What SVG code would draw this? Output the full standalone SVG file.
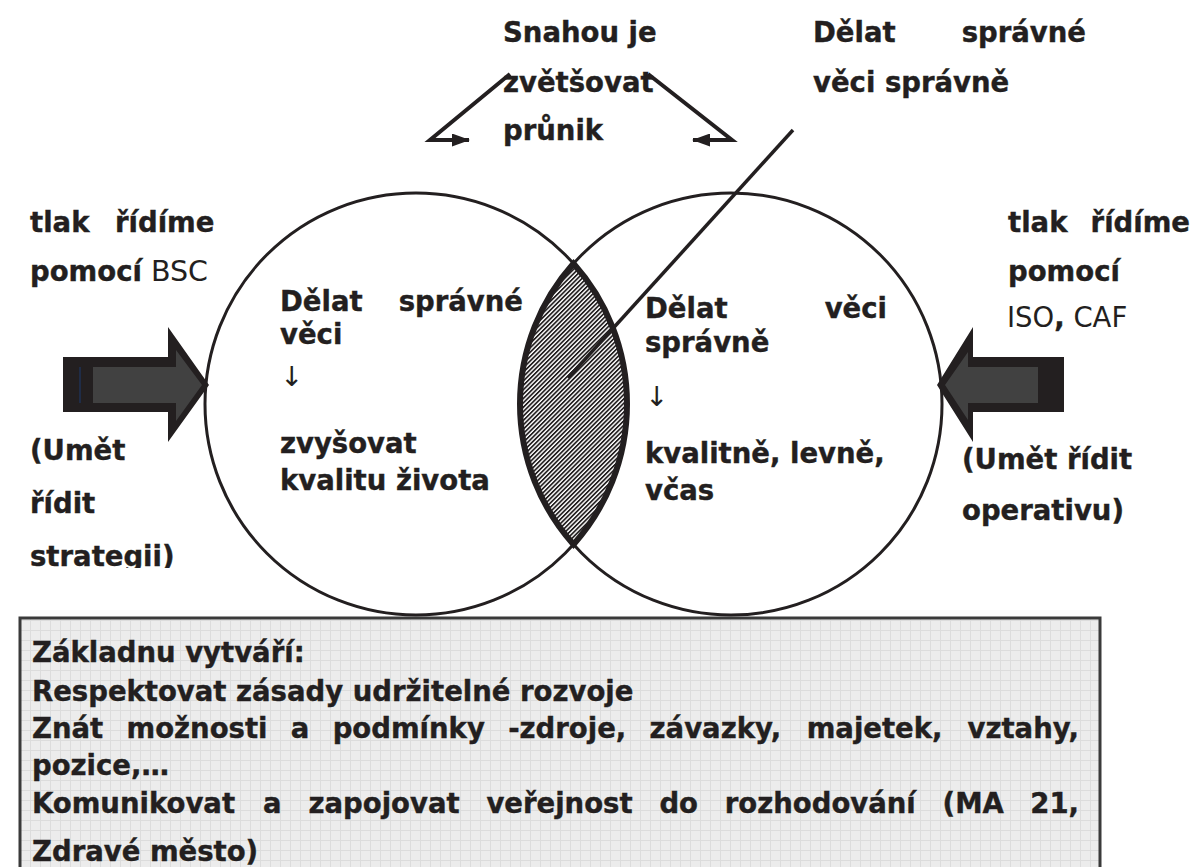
<svg xmlns="http://www.w3.org/2000/svg" width="1193" height="867" viewBox="0 0 1193 867">
  <defs>
    <style>
      .t { font-family: "DejaVu Sans", Verdana, sans-serif; font-weight: bold; font-size: 27.5px; fill: #231f20; stroke: #231f20; stroke-width: 0.4; }
      .n { font-weight: normal; stroke: none; }
      .ring { fill: none; stroke: #231f20; stroke-width: 3; }
      .lnk { fill: none; stroke: #231f20; stroke-width: 4; stroke-linejoin: miter; }
      .blk { fill: #231f20; }
      .gry { fill: #414141; }
    </style>
    <!-- diagonal hatching for the overlap -->
    <pattern id="hatch" patternUnits="userSpaceOnUse" width="3.1" height="3.1" patternTransform="rotate(45)">
      <rect width="3.1" height="3.1" fill="#ffffff"/>
      <rect width="1.7" height="3.1" fill="#231f20"/>
    </pattern>
    <!-- light squared paper for the base panel -->
    <pattern id="grid" patternUnits="userSpaceOnUse" width="10" height="10">
      <rect width="10" height="10" fill="#ececec"/>
      <path d="M0 0.5 H10 M0.5 0 V10" stroke="#dcdcdc" stroke-width="1"/>
    </pattern>
    <marker id="head" viewBox="0 0 18 13" refX="17" refY="6.5" markerWidth="18" markerHeight="13" markerUnits="userSpaceOnUse" orient="auto">
      <path d="M0 0 L18 6.5 L0 13 Z" fill="#231f20"/>
    </marker>
    <clipPath id="cutLeft">
      <rect x="0" y="420" width="200" height="148"/>
    </clipPath>
  </defs>

  <rect width="1193" height="867" fill="#ffffff"/>

  <!-- base panel -->
  <g id="base">
    <rect x="20" y="618" width="1080" height="262" fill="url(#grid)" stroke="#3a3a3a" stroke-width="3"/>
    <text class="t" x="32" y="662">Základnu vytváří:</text>
    <text class="t" x="32" y="701">Respektovat zásady udržitelné rozvoje</text>
    <g class="t">
      <text x="32" y="738">Znát</text>
      <text x="126.5" y="738">možnosti</text>
      <text x="290.8" y="738">a</text>
      <text x="332.7" y="738">podmínky</text>
      <text x="508.2" y="738">-zdroje,</text>
      <text x="649.6" y="738">závazky,</text>
      <text x="806.7" y="738">majetek,</text>
      <text x="1079" y="738" text-anchor="end">vztahy,</text>
    </g>
    <text class="t" x="32" y="775">pozice,…</text>
    <g class="t">
      <text x="32" y="813">Komunikovat</text>
      <text x="263.1" y="813">a</text>
      <text x="308.5" y="813">zapojovat</text>
      <text x="486.4" y="813">veřejnost</text>
      <text x="659.4" y="813">do</text>
      <text x="724.8" y="813">rozhodování</text>
      <text x="942.6" y="813">(MA</text>
      <text x="1079" y="813" text-anchor="end">21,</text>
    </g>
    <text class="t" x="32" y="861">Zdravé město)</text>
  </g>

  <!-- two overlapping circles -->
  <g id="left-circle">
    <circle class="ring" cx="416" cy="404" r="211"/>
    <text class="t" x="280" y="311">Dělat</text>
    <text class="t" x="523" y="311" text-anchor="end">správné</text>
    <text class="t" x="280" y="344">věci</text>
    <text class="t n" x="280" y="386">↓</text>
    <text class="t" x="280" y="453">zvyšovat</text>
    <text class="t" x="280" y="490">kvalitu života</text>
  </g>

  <g id="right-circle">
    <circle class="ring" cx="731" cy="404" r="211"/>
    <text class="t" x="645" y="318">Dělat</text>
    <text class="t" x="887" y="318" text-anchor="end">věci</text>
    <text class="t" x="645" y="352">správně</text>
    <text class="t n" x="645" y="406">↓</text>
    <text class="t" x="645" y="463">kvalitně, levně,</text>
    <text class="t" x="645" y="500">včas</text>
  </g>

  <!-- overlap of the circles -->
  <g id="overlap">
    <path d="M573.5 263.6 A211 211 0 0 1 573.5 544.4 A211 211 0 0 1 573.5 263.6 Z" fill="url(#hatch)" stroke="#231f20" stroke-width="6" stroke-linejoin="miter"/>
  </g>

  <!-- pressure arrows -->
  <g id="arrow-left">
    <path class="blk" d="M63 357 H168 V327 L209 385 L168 442 V412 H63 Z"/>
    <path class="gry" d="M93 367 H176 V350 L202 385 L176 421 V403 H93 Z"/>
    <line x1="80" y1="367" x2="80" y2="403" stroke="#1d3a6e" stroke-width="1"/>
  </g>
  <g id="arrow-right">
    <path class="blk" d="M1064 357 H973 V327 L937 385 L973 442 V412 H1064 Z"/>
    <path class="gry" d="M1038 367 H968 V352 L945 385 L968 420 V403 H1038 Z"/>
  </g>

  <!-- side labels -->
  <g id="label-left">
    <text class="t" x="30" y="232">tlak</text>
    <text class="t" x="115" y="232">řídíme</text>
    <text class="t" x="30" y="281">pomocí<tspan class="n" font-size="28.5"> BSC</tspan></text>
    <g clip-path="url(#cutLeft)">
      <text class="t" x="30" y="460">(Umět</text>
      <text class="t" x="30" y="513">řídit</text>
      <text class="t" x="30" y="566">strategii)</text>
    </g>
  </g>

  <g id="label-right">
    <text class="t" x="1008" y="232">tlak</text>
    <text class="t" x="1190" y="232" text-anchor="end">řídíme</text>
    <text class="t" x="1008" y="281">pomocí</text>
    <text class="t" x="1007" y="327"><tspan class="n">ISO</tspan>,<tspan class="n"> CAF</tspan></text>
    <text class="t" x="962" y="469">(Umět řídit</text>
    <text class="t" x="962" y="520">operativu)</text>
  </g>

  <!-- top labels -->
  <g id="label-top">
    <text class="t" x="503" y="42">Snahou je</text>
    <text class="t" x="503" y="92">zvětšovat</text>
    <text class="t" x="503" y="140">průnik</text>
  </g>
  <g id="label-top-right">
    <text class="t" x="813" y="42">Dělat</text>
    <text class="t" x="1086" y="42" text-anchor="end">správné</text>
    <text class="t" x="813" y="92">věci správně</text>
  </g>

  <!-- connectors -->
  <g id="connectors">
    <polyline class="lnk" points="510,74 430,140 469,140" marker-end="url(#head)"/>
    <polyline class="lnk" points="648,74 732,140 693,140" marker-end="url(#head)"/>
    <line x1="793" y1="130" x2="568" y2="378" stroke="#231f20" stroke-width="3.5"/>
  </g>
</svg>
